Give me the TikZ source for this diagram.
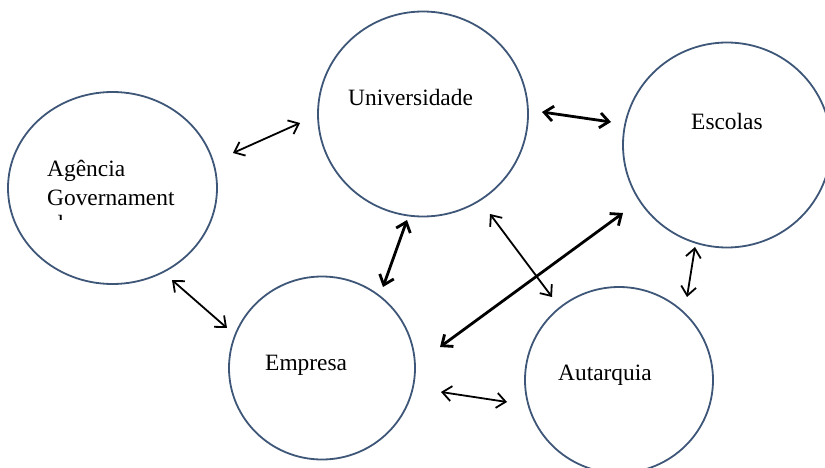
\documentclass[tikz,border=0pt]{standalone}
\usepackage{fontspec}
\setmainfont{Liberation Serif}
\usetikzlibrary{arrows.meta,shapes.geometric}
\definecolor{ringblue}{HTML}{3E5677}
\tikzset{
  bubble/.style={ellipse,draw=ringblue,line width=1.8pt,inner sep=0pt},
  word/.style={anchor=base west,inner sep=0pt,font=\fontsize{23.4}{28}\selectfont}
}
\begin{document}
\begin{tikzpicture}[x=1pt,y=-1pt,>={Straight Barb[length=9pt,width=15pt]}]
      \useasboundingbox (0,0) rectangle (825,468);
      \draw
        (112.5,188) node[bubble,minimum width=209pt,minimum height=192pt] (gov){}
        (423,114) node[bubble,minimum width=210pt,minimum height=205pt] (uni){}
        (727,145) node[bubble,minimum width=208pt,minimum height=205pt] (esc){}
        (322,368) node[bubble,minimum width=186pt,minimum height=183pt] (emp){}
        (619,380) node[bubble,minimum width=188pt,minimum height=186pt] (aut){};
      \draw
        (47,177) node[word] (govtxt){Agência}
        (47,205) node[word] (govtxtb){Governament}
        (348,106) node[word] (unitxt){Universidade}
        (691,130) node[word] (esctxt){Escolas}
        (265,370) node[word] (emptxt){Empresa}
        (558,380) node[word] (auttxt){Autarquia};
      \begin{scope}
        \clip (40,208) rectangle (80,219.5);
        \node[word] (govtxtc) at (47,231) {al};
      \end{scope}
      \path
        (233,153) coordinate (gu1) (300,123) coordinate (gu2)
        (172,280) coordinate (ge1) (227,328) coordinate (ge2)
        (407,220) coordinate (ue1) (383,287) coordinate (ue2)
        (490,214) coordinate (ua1) (552,297) coordinate (ua2)
        (623,213) coordinate (se1) (440,347) coordinate (se2)
        (542,112) coordinate (us1) (611,122) coordinate (us2)
        (695,247) coordinate (sa1) (687,297) coordinate (sa2)
        (441,392) coordinate (ea1) (507,402) coordinate (ea2);
      \begin{scope}[<->,line width=1.8pt]
        \draw (gu1) to (gu2);
        \draw (ge1) to (ge2);
        \draw (ua1) to (ua2);
        \draw (sa1) to (sa2);
        \draw (ea1) to (ea2);
      \end{scope}
      \begin{scope}[<->,line width=2.8pt]
        \draw (ue1) to (ue2);
        \draw (se1) to (se2);
        \draw (us1) to (us2);
      \end{scope}
    \end{tikzpicture}
\end{document}
